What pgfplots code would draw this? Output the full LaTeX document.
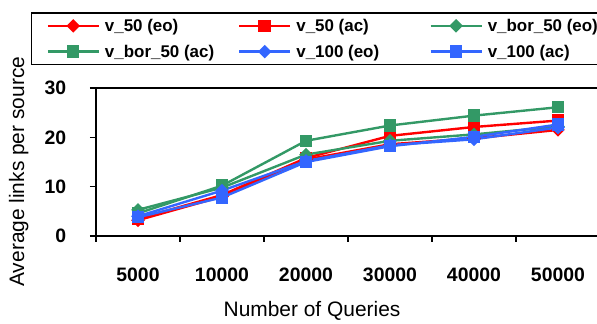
\documentclass[border=0pt]{standalone}
\usepackage{pgfplots}
\pgfplotsset{compat=1.18}
\usepackage{fontspec}
\setmainfont{Liberation Sans}
\definecolor{cred}{RGB}{255,0,0}
\definecolor{cgreen}{RGB}{51,153,102}
\definecolor{cblue}{RGB}{51,102,255}
\newcommand\lent[1]{\makebox[138bp][l]{\hspace{5bp}\fontsize{17}{20}\selectfont\bfseries #1}}

\begin{document}
\begin{tikzpicture}
\begin{axis}[
  at={(96bp,88bp)}, anchor=south west,
  scale only axis, width=504bp, height=148bp,
  xmin=0, xmax=6, ymin=0, ymax=30,
  xtick={0,...,6}, x tick label as interval,
  xticklabels={5000,10000,20000,30000,40000,50000},
  ytick={0,10,20,30},
  tick pos=left, tick align=outside, major tick length=6bp,
  axis line style={line width=1.2bp},
  tick style={line width=1.2bp, black},
  /pgf/number format/assume math mode=true,
  ticklabel style={font=\fontsize{19.5}{22}\selectfont\bfseries},
  yticklabel style={anchor=east, inner sep=0pt, xshift=-23.5bp},
  xticklabel style={anchor=center, inner sep=0pt, yshift=-33bp},
  xlabel={Number of Queries},
  xlabel style={at={(axis description cs:0.4286,0)}, anchor=center, yshift=-75bp, font=\fontsize{21}{24}\selectfont},
  ylabel={Average links per source},
  ylabel style={at={(axis description cs:-0.1534,0.4345)}, anchor=center, font=\fontsize{21}{24}\selectfont},
  legend columns=3,
  legend style={at={(axis description cs:-0.1296,1.513)}, anchor=north west, draw=black, line width=1.8bp,
    inner xsep=15bp, inner ysep=6bp, row sep=12bp, column sep=0pt,
    nodes={inner sep=0pt}},
  legend image code/.code={\draw[mark repeat=2,mark phase=2] plot coordinates {(0bp,0bp) (25.5bp,0bp) (51bp,0bp)};},
  every axis plot/.append style={line width=2.4bp},
]
\addplot[cred, mark=square*, mark size=3.6bp, mark options={rotate=45, solid}] coordinates {(0.5,3.2) (1.5,8.0) (2.5,15.5) (3.5,18.6) (4.5,19.8) (5.5,21.5)};
\addlegendentry{\lent{v\_50 (eo)}}
\addplot[cred, mark=square*, mark size=5bp] coordinates {(0.5,3.5) (1.5,8.3) (2.5,15.8) (3.5,20.3) (4.5,22.1) (5.5,23.4)};
\addlegendentry{\lent{v\_50 (ac)}}
\addplot[cgreen, mark=square*, mark size=3.6bp, mark options={rotate=45}] coordinates {(0.5,5.3) (1.5,9.8) (2.5,16.5) (3.5,19.3) (4.5,20.6) (5.5,22.2)};
\addlegendentry{\lent{v\_bor\_50 (eo)}}
\addplot[cgreen, mark=square*, mark size=5bp] coordinates {(0.5,4.6) (1.5,10.2) (2.5,19.3) (3.5,22.4) (4.5,24.4) (5.5,26.1)};
\addlegendentry{\lent{v\_bor\_50 (ac)}}
\addplot[cblue, mark=square*, mark size=3.6bp, mark options={rotate=45}] coordinates {(0.5,4.0) (1.5,9.2) (2.5,15.2) (3.5,18.4) (4.5,19.6) (5.5,22.0)};
\addlegendentry{\lent{v\_100 (eo)}}
\addplot[cblue, mark=square*, mark size=5bp] coordinates {(0.5,3.8) (1.5,7.8) (2.5,15.0) (3.5,18.2) (4.5,20.1) (5.5,22.6)};
\addlegendentry{\lent{v\_100 (ac)}}
\end{axis}
\pgfresetboundingbox
\path[use as bounding box] (0,0) rectangle (597bp,324bp);
\end{tikzpicture}
\end{document}
